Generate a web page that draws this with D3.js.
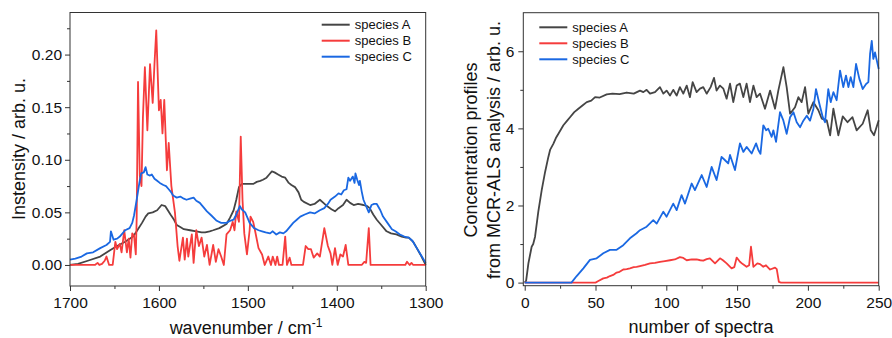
<!DOCTYPE html>
<html>
<head>
<meta charset="utf-8">
<script src="https://cdn.jsdelivr.net/npm/d3@7/dist/d3.min.js"></script>
<style>
  body { margin: 0; background: #fff; }
  svg { font-family: "Liberation Sans", Arial, sans-serif; }
</style>
</head>
<body>
<svg id="chart" width="892" height="338"></svg>
<script>
// ---- data: left panel (spectra), wavenumber / cm-1 vs intensity ----
const wnA = [1700,1691,1680,1666,1655,1647,1638,1629,1625,1619,1615,1612,1607,1602,1597,1593,1590,1587,1583,1580,1576,1572,1565,1558,1552,1548,1543,1539,1532,1524,1520,1516,1513,1510,1507,1503,1499,1494,1490,1486,1483,1479,1476,1473,1470,1466,1462,1458,1454,1451,1447,1443,1440,1437,1430,1425,1419,1415,1411,1406,1402,1398,1393,1389,1385,1381,1376,1370,1366,1363,1359,1355,1350,1344,1339,1333,1327,1322,1319,1314,1310,1306,1303,1300];
const specA = [0,0.001,0.004,0.008,0.014,0.018,0.022,0.027,0.032,0.040,0.046,0.049,0.050,0.052,0.057,0.056,0.052,0.048,0.043,0.038,0.036,0.034,0.033,0.032,0.031,0.031,0.032,0.033,0.035,0.039,0.045,0.052,0.062,0.074,0.077,0.077,0.077,0.077,0.079,0.080,0.081,0.083,0.086,0.089,0.088,0.086,0.084,0.083,0.078,0.076,0.074,0.069,0.062,0.060,0.057,0.058,0.062,0.059,0.056,0.053,0.051,0.054,0.057,0.062,0.059,0.057,0.058,0.057,0.056,0.054,0.048,0.043,0.038,0.032,0.030,0.029,0.027,0.026,0.026,0.022,0.016,0.010,0.005,0];

const wnB = [1700,1672,1669,1667,1664,1661,1659,1656,1652,1649,1647,1644,1642,1639,1636,1634,1632,1630,1628,1626,1625,1623.5,1621.5,1619.6,1618,1615.8,1613,1610,1607,1605,1603,1600,1598,1596,1594,1591,1589,1586,1582,1579,1577,1573,1571,1568.5,1567,1563,1561,1558,1555,1552,1549,1546,1543,1539,1536,1533,1530,1527,1524,1520,1517,1515,1513,1510,1508,1506,1504,1501,1498,1497,1494,1492,1488,1484,1481,1477,1474,1472,1469,1467,1465,1461,1458,1456,1453,1451,1438,1435,1432,1429,1426,1422,1419,1414,1410,1407,1405,1402,1399,1396,1393,1390,1387,1372,1369,1367,1364,1362,1323,1321,1318,1316,1314,1300];
const specB = [0,0,0.002,0,0.001,0.004,0.008,0,0,0.022,0.015,0.020,0.012,0.033,0.012,0.025,0.007,0.030,0.028,0.010,0.045,0.174,0.085,0.075,0.140,0.188,0.128,0.191,0.154,0.191,0.223,0.147,0.157,0.125,0.157,0.090,0.116,0.075,0.050,0.018,0.004,0.026,0.005,0.025,0.008,0.029,0.002,0.033,0.018,0.026,0.008,0.019,0,0.019,0.003,0.015,0.008,0,0.029,0.033,0.041,0.033,0.051,0.041,0.122,0.062,0.030,0.010,0.033,0.046,0.041,0.033,0.016,0.010,0,0.008,0,0.008,0,0.008,0,0,0.027,0,0.007,0,0,0.018,0.015,0.015,0.007,0.011,0.008,0.035,0.018,0.011,0,0.016,0,0.010,0.008,0.019,0,0,0.003,0.002,0.035,0,0,0.003,0,0.002,0,0];

const wnC = [1700,1694,1687,1681,1674,1666,1659,1655,1654,1651,1647,1644,1638,1633,1630,1628,1625,1622,1620,1617,1615,1613,1610,1608,1605,1602,1599,1595,1592,1589,1587,1584,1580,1576,1572,1569,1565,1561,1558,1554,1550,1546,1541,1535,1530,1524,1520,1516,1513,1509,1507,1503,1500,1498,1493,1488,1484,1480,1475,1472,1468,1464,1460,1457,1453,1449,1445,1441,1436,1430,1425,1419,1414,1410,1407,1402,1398,1395,1392,1389,1387,1385,1382,1380,1379,1377,1375,1374,1372,1370,1367,1364,1361,1358,1355,1351,1348,1343,1338,1334,1329,1324,1319,1315,1310,1305,1300];
const specC = [0.005,0.006,0.008,0.011,0.012,0.016,0.019,0.022,0.032,0.024,0.025,0.027,0.033,0.035,0.040,0.047,0.062,0.078,0.087,0.088,0.093,0.086,0.085,0.086,0.082,0.080,0.078,0.076,0.075,0.072,0.070,0.066,0.064,0.065,0.063,0.062,0.063,0.064,0.061,0.059,0.055,0.051,0.047,0.042,0.040,0.040,0.042,0.043,0.048,0.056,0.053,0.050,0.044,0.040,0.035,0.033,0.032,0.031,0.030,0.032,0.029,0.031,0.030,0.032,0.036,0.040,0.043,0.046,0.048,0.050,0.049,0.052,0.054,0.058,0.062,0.065,0.068,0.067,0.071,0.072,0.083,0.080,0.084,0.078,0.087,0.081,0.076,0.080,0.070,0.062,0.056,0.050,0.057,0.058,0.058,0.052,0.046,0.040,0.034,0.032,0.029,0.027,0.026,0.023,0.016,0.009,0.002];

// ---- data: right panel (concentration profiles) ----
const nA = [0,1,2.6,4.9,6,7.3,9.6,12,14.4,16.7,18,20.2,22,23.8,27.3,30,32,35,37.9,41,43.8,47,49.7,53,57.9,62,67,72,77,81.4,83.8,86.1,88.5,92,95.5,97.9,100.2,102.6,104.9,107.3,109.6,112,114.4,116.7,118.6,121.4,123.8,126.1,128.5,131.3,133.7,135.5,137.9,140.3,142.6,145,147.3,149.7,152,154.4,156.7,159.1,161.5,163.8,166.2,169.7,173.3,176.8,179.1,182.7,185,187.4,190.9,193.3,195.6,198,200.3,203.9,207.4,209.8,213.3,215.7,218,221.5,224.6,228,231.5,234.4,238.7,242.2,244.4,246.7,250];
const concA = [0,0.05,0.5,0.93,1.0,1.19,1.84,2.4,2.87,3.26,3.45,3.6,3.75,3.86,4.08,4.2,4.29,4.42,4.51,4.6,4.68,4.72,4.81,4.8,4.88,4.9,4.89,4.93,4.9,4.98,4.94,5.0,4.9,4.94,5.07,4.9,4.98,4.85,5.0,4.85,5.07,4.9,5.11,4.81,5.2,4.94,5.03,5.07,4.9,5.07,5.31,4.98,5.11,5.03,4.77,5.16,4.68,5.11,5.16,4.81,5.16,4.68,5.11,4.81,4.9,4.51,4.98,4.51,4.98,5.59,5.07,4.38,4.55,4.81,4.68,5.07,4.38,4.68,4.47,4.25,4.21,3.82,4.51,3.82,4.31,4.16,4.29,3.95,4.12,4.47,3.95,3.82,4.21];

const nB = [0,50,52,55.5,58,60.2,62.5,64.9,67,69.6,72,74.3,77,79,81.4,85,88.5,92,95.5,99,102.6,106,109.6,112,114.4,118,121.4,124,126.1,128.5,130.8,134.4,137.9,140,142.6,146.1,148,149.7,152,154,156.7,158.5,159.8,161.5,164.3,166.2,168.5,170.4,173.3,176.8,178,179.5,181,250];
const concB = [0,0,0.04,0.11,0.13,0.17,0.2,0.26,0.28,0.34,0.35,0.37,0.4,0.41,0.43,0.46,0.5,0.51,0.54,0.56,0.58,0.6,0.66,0.64,0.58,0.6,0.6,0.58,0.57,0.61,0.63,0.5,0.63,0.58,0.5,0.37,0.4,0.65,0.54,0.48,0.41,0.45,0.93,0.41,0.5,0.48,0.41,0.45,0.34,0.39,0.35,0.02,0,0];

const nC = [0,33,36.7,41.4,46.1,50.8,55.5,60.2,64.9,69.6,74.3,79,81.4,86.1,90.8,93.2,97.9,100.2,104.9,107.3,110.8,113.2,117.9,120.2,125,128.5,132,135.5,139,141.3,143.7,145,148.5,152,154.4,156.7,160.3,163.4,165,166.5,168.5,170.5,172,174.4,175.6,177.5,180.3,182.7,185,187.4,189.8,192.1,194.5,196.8,199.2,201.5,203.9,205.7,208.1,210.5,212.1,214.4,216.1,218,220.3,222.7,225,226.9,228.6,230.2,232.1,234,236.3,238.7,241.1,242.7,243.9,245.1,246.2,247.4,250];
const concC = [0,0,0.17,0.37,0.59,0.63,0.76,0.85,0.85,0.97,1.15,1.28,1.36,1.45,1.62,1.53,1.84,1.71,2.05,1.88,2.27,2.05,2.57,2.4,2.79,2.48,3.0,2.66,3.26,3.18,3.09,3.31,2.92,3.61,3.39,3.52,3.35,3.61,3.44,3.34,4.08,3.95,3.99,3.78,3.95,3.65,4.42,4.2,3.86,4.29,4.42,4.16,4.03,4.2,4.33,4.2,4.51,5.02,4.64,4.29,4.16,5.02,4.68,4.94,4.73,5.5,5.07,5.37,5.07,5.33,5.07,5.67,5.29,5.02,5.15,5.2,5.93,6.27,5.8,5.97,5.54];

const seriesNames = ["species A", "species B", "species C"];
const seriesColors = ["#454545", "#f53c3c", "#1a68e2"];

const leftXTicks = [1700, 1600, 1500, 1400, 1300];
const leftXMinor = [1650, 1550, 1450, 1350];
const leftYTicks = [0, 0.05, 0.10, 0.15, 0.20];
const leftYMinor = [0.025, 0.075, 0.125, 0.175, 0.225];
const rightXTicks = [0, 50, 100, 150, 200, 250];
const rightXMinor = [25, 75, 125, 175, 225];
const rightYTicks = [0, 2, 4, 6];
const rightYMinor = [1, 3, 5];

const svg = d3.select("#chart");
const axisColor = "#333";

function zipPts(xs, ys) {
  return xs.map((x, i) => [x, ys[i]]);
}

function drawPanel(opts) {
  const { x, y } = opts;
  const g = svg.append("g");

  // minor ticks first, then major ticks with labels
  const xMinor = g.append("g")
    .attr("transform", `translate(0,${y.range()[0]})`)
    .call(d3.axisBottom(x).tickValues(opts.xMinor).tickSize(3).tickFormat(""));
  const xMajor = g.append("g")
    .attr("transform", `translate(0,${y.range()[0]})`)
    .call(d3.axisBottom(x).tickValues(opts.xTicks).tickSize(5).tickPadding(6)
      .tickFormat(opts.xFormat));
  const yMinor = g.append("g")
    .attr("transform", `translate(${x.range()[0]},0)`)
    .call(d3.axisLeft(y).tickValues(opts.yMinor).tickSize(3).tickFormat(""));
  const yMajor = g.append("g")
    .attr("transform", `translate(${x.range()[0]},0)`)
    .call(d3.axisLeft(y).tickValues(opts.yTicks).tickSize(5).tickPadding(opts.yPad)
      .tickFormat(opts.yFormat));

  [xMinor, xMajor, yMinor, yMajor].forEach((a) => {
    a.select(".domain").remove();
    a.selectAll(".tick line").attr("stroke", axisColor);
    a.selectAll(".tick text").attr("font-size", 15.5).attr("fill", "#111")
      .attr("font-family", "Liberation Sans, Arial, sans-serif");
  });

  // curves
  const line = d3.line().x((d) => x(d[0])).y((d) => y(d[1]));
  opts.series.forEach((s, i) => {
    g.append("path")
      .datum(s)
      .attr("fill", "none")
      .attr("stroke", seriesColors[i])
      .attr("stroke-width", 1.8)
      .attr("stroke-linejoin", "round")
      .attr("d", line);
  });

  // frame
  const [x0, x1] = x.range();
  const [y0, y1] = y.range();
  g.append("rect")
    .attr("x", x0).attr("y", y1)
    .attr("width", x1 - x0).attr("height", y0 - y1)
    .attr("fill", "none").attr("stroke", axisColor).attr("stroke-width", 1);

  // legend
  const lg = g.append("g");
  seriesNames.forEach((name, i) => {
    const ly = opts.legend.y + i * 16;
    lg.append("line")
      .attr("x1", opts.legend.x).attr("x2", opts.legend.x + 28)
      .attr("y1", ly).attr("y2", ly)
      .attr("stroke", seriesColors[i]).attr("stroke-width", 2);
    lg.append("text")
      .attr("x", opts.legend.x + 33).attr("y", ly).attr("dy", "0.35em")
      .attr("font-size", 13).attr("fill", "#111")
      .text(name);
  });
  return g;
}

// left panel
const xL = d3.scaleLinear().domain([1700, 1300]).range([70, 425.7]);
const yL = d3.scaleLinear().domain([-0.02, 0.24]).range([286, 12.5]);
drawPanel({
  x: xL, y: yL,
  xTicks: leftXTicks, xMinor: leftXMinor, yTicks: leftYTicks, yMinor: leftYMinor,
  xFormat: d3.format("d"), yFormat: d3.format(".2f"), yPad: 3,
  series: [zipPts(wnA, specA), zipPts(wnB, specB), zipPts(wnC, specC)],
  legend: { x: 321.7, y: 24.7 }
});

// right panel
const xR = d3.scaleLinear().domain([-1, 250]).range([523.3, 878.7]);
const yR = d3.scaleLinear().domain([-0.08, 7]).range([285.7, 12.7]);
drawPanel({
  x: xR, y: yR,
  xTicks: rightXTicks, xMinor: rightXMinor, yTicks: rightYTicks, yMinor: rightYMinor,
  xFormat: d3.format("d"), yFormat: d3.format("d"), yPad: 4,
  series: [zipPts(nA, concA), zipPts(nB, concB), zipPts(nC, concC)],
  legend: { x: 539.3, y: 27.3 }
});

// axis titles
const tL = svg.append("text")
  .attr("x", 246).attr("y", 334)
  .attr("text-anchor", "middle").attr("font-size", 18).attr("fill", "#111");
tL.append("tspan").text("wavenumber / cm");
tL.append("tspan").attr("font-size", 12).attr("dy", -7).text("-1");

svg.append("text")
  .attr("transform", "translate(19,149) rotate(-90)")
  .attr("dy", "0.35em")
  .attr("text-anchor", "middle").attr("font-size", 18).attr("fill", "#111")
  .text("Instensity / arb. u.");

svg.append("text")
  .attr("x", 701).attr("y", 333)
  .attr("text-anchor", "middle").attr("font-size", 18).attr("fill", "#111")
  .text("number of spectra");

svg.append("text")
  .attr("transform", "translate(471,150) rotate(-90)")
  .attr("dy", "0.35em")
  .attr("text-anchor", "middle").attr("font-size", 18).attr("fill", "#111")
  .text("Concentration profiles");

svg.append("text")
  .attr("transform", "translate(494,150) rotate(-90)")
  .attr("dy", "0.35em")
  .attr("text-anchor", "middle").attr("font-size", 18).attr("fill", "#111")
  .text("from MCR-ALS analysis / arb. u.");
</script>
</body>
</html>
